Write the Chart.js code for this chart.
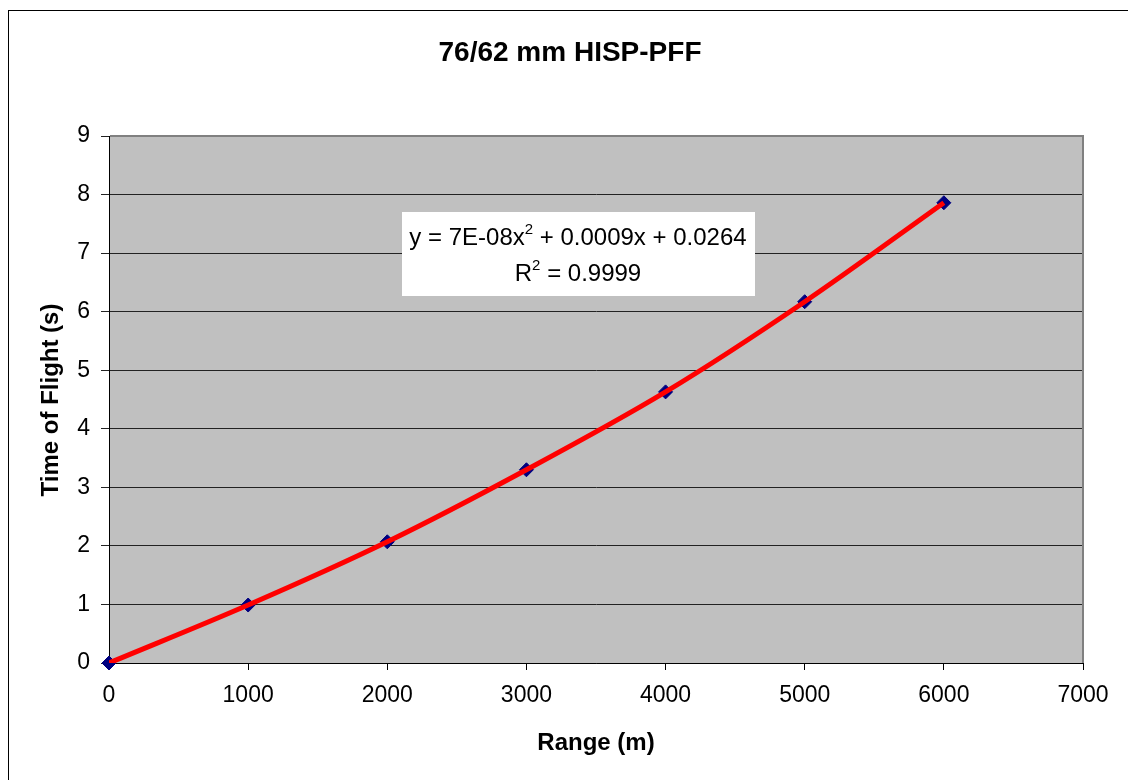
<!DOCTYPE html>
<html>
<head>
<meta charset="utf-8">
<script src="https://cdn.jsdelivr.net/npm/chart.js@4.4.1/dist/chart.umd.min.js"></script>
<style>
  html, body { margin: 0; padding: 0; background: #fff; }
  #wrap { width: 1128px; height: 780px; }
</style>
</head>
<body>
<div id="wrap"><canvas id="tof-chart" width="1128" height="780"></canvas></div>
<script>
// dados
const rangeM = [0, 1000, 2000, 3000, 4000, 5000, 6000];
const timeOfFlight = [0, 0.99, 2.07, 3.30, 4.63, 6.17, 7.86];
const chartTitle = '76/62 mm HISP-PFF';
const xTitle = 'Range (m)';
const yTitle = 'Time of Flight (s)';
const FONT = '"Liberation Sans", Arial, sans-serif';

const points = rangeM.map((x, i) => ({ x: x, y: timeOfFlight[i] }));

// fundo, bordas, títulos e caixa da equação
const decor = {
    id: 'decor',
    beforeDraw(chart) {
        const { ctx, chartArea: a } = chart;
        ctx.save();
        ctx.fillStyle = '#fff';
        ctx.fillRect(0, 0, chart.width, chart.height);
        ctx.strokeStyle = '#000';
        ctx.lineWidth = 1;
        ctx.strokeRect(8.5, 10.5, 1300, 900);
        ctx.fillStyle = '#c0c0c0';
        ctx.fillRect(a.left, a.top, a.right - a.left, a.bottom - a.top);
        ctx.restore();
    },
    beforeDatasetsDraw(chart) {
        const { ctx, chartArea: a } = chart;
        ctx.save();
        ctx.strokeStyle = '#808080';
        ctx.lineWidth = 2;
        ctx.beginPath();
        ctx.moveTo(a.left + 1, a.top);
        ctx.lineTo(a.right, a.top);
        ctx.lineTo(a.right, a.bottom);
        ctx.stroke();

        // caixa da equação
        ctx.fillStyle = '#fff';
        ctx.fillRect(402, 212, 353, 84);
        ctx.fillStyle = '#000';
        ctx.textBaseline = 'alphabetic';
        drawSup(ctx, ['y = 7E-08x', '2', ' + 0.0009x + 0.0264'], 578, 245);
        drawSup(ctx, ['R', '2', ' = 0.9999'], 578, 281);
        ctx.restore();
    },
    afterDraw(chart) {
        const ctx = chart.ctx;
        ctx.save();
        ctx.fillStyle = '#000';
        ctx.textAlign = 'center';
        ctx.textBaseline = 'middle';
        ctx.font = 'bold 28px ' + FONT;
        ctx.fillText(chartTitle, 570, 53);
        ctx.font = 'bold 24px ' + FONT;
        ctx.fillText(xTitle, 596, 743);
        ctx.translate(51, 400);
        ctx.rotate(-Math.PI / 2);
        ctx.fillText(yTitle, 0, 0);
        ctx.restore();
    }
};

// texto com expoente (sobrescrito)
function drawSup(ctx, parts, cx, baseY) {
    const big = '24px ' + FONT;
    const small = '15px ' + FONT;
    ctx.font = big;
    const w0 = ctx.measureText(parts[0]).width;
    const w2 = ctx.measureText(parts[2]).width;
    ctx.font = small;
    const w1 = ctx.measureText(parts[1]).width;
    let x = cx - (w0 + w1 + w2) / 2;
    ctx.textAlign = 'left';
    ctx.font = big;
    ctx.fillText(parts[0], x, baseY);
    x += w0;
    ctx.font = small;
    ctx.fillText(parts[1], x, baseY - 11);
    x += w1;
    ctx.font = big;
    ctx.fillText(parts[2], x, baseY);
}

const ctx = document.getElementById('tof-chart').getContext('2d');
const chart = new Chart(ctx, {
    type: 'scatter',
    data: {
        datasets: [
            {
                label: 'Trend',
                data: points,
                showLine: true,
                borderColor: '#ff0000',
                borderWidth: 5,
                pointRadius: 0,
                cubicInterpolationMode: 'monotone',
                order: 0
            },
            {
                label: 'Time of Flight',
                data: points,
                pointStyle: 'rectRot',
                pointRadius: 7,
                pointBorderWidth: 1,
                backgroundColor: '#000080',
                borderColor: '#000080',
                clip: false,
                order: 1
            }
        ]
    },
    options: {
        responsive: false,
        animation: false,
        layout: { padding: { top: 136, right: 45, left: 0, bottom: 0 } },
        plugins: {
            legend: { display: false },
            title: { display: false },
            tooltip: { enabled: false }
        },
        scales: {
            x: {
                type: 'linear',
                min: 0,
                max: 7000,
                afterFit(scale) { scale.height = 117; },
                ticks: {
                    stepSize: 1000,
                    color: '#000',
                    padding: 12,
                    maxRotation: 0,
                    callback: (v) => String(v),
                    font: { family: FONT, size: 23 }
                },
                grid: {
                    drawOnChartArea: false,
                    drawTicks: true,
                    tickLength: 7,
                    color: '#000'
                },
                border: { display: true, color: '#000', width: 1 }
            },
            y: {
                min: 0,
                max: 9,
                afterFit(scale) { scale.width = 109; },
                ticks: {
                    stepSize: 1,
                    color: '#000',
                    padding: 11,
                    font: { family: FONT, size: 23 }
                },
                grid: {
                    color: '#222',
                    lineWidth: 1,
                    tickLength: 8
                },
                border: { display: true, color: '#000', width: 1 }
            }
        }
    },
    plugins: [decor]
});
</script>
</body>
</html>
